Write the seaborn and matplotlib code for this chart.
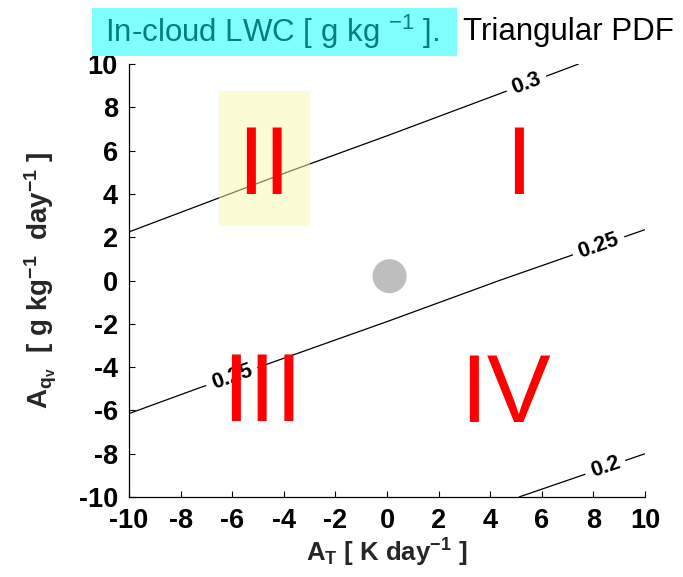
import numpy as np
import matplotlib
matplotlib.use("Agg")
import matplotlib.pyplot as plt
from matplotlib.patches import Rectangle
import seaborn as sns

# Forcing anomaly grid
a_t = [-10, -5, 0, 5, 10]      # A_T  [K day-1]
a_qv = [-10, -5, 0, 5, 10]     # A_qv [g kg-1 day-1]

# In-cloud liquid water content [g kg-1]; rows follow a_qv, columns follow a_t
lwc_rows = [
    [0.2295, 0.2192, 0.2095, 0.2002, 0.1912],
    [0.2561, 0.2445, 0.2335, 0.2231, 0.2132],
    [0.2855, 0.2724, 0.2601, 0.2485, 0.2375],
    [0.3178, 0.3031, 0.2893, 0.2763, 0.2641],
    [0.3529, 0.3365, 0.3211, 0.3066, 0.2930],
]
levels = [0.2, 0.25, 0.3]
label_points = [(5.4, 9.1), (8.2, 1.6), (-6.0, -4.5), (8.45, -8.6)]

# Quadrant labels
quadrants = ["I", "II", "III", "IV"]
quad_t = [5.1, -4.77, -4.83, 4.6]
quad_qv = [4.0, 4.0, -6.48, -6.54]

# Control point
control_t = [0.1]
control_qv = [0.2]

# Highlighted region
box_t = [-6.5, -3.0]
box_qv = [2.5, 8.75]

ticks = [-10, -8, -6, -4, -2, 0, 2, 4, 6, 8, 10]

sns.set_style("ticks", {"xtick.direction": "in", "ytick.direction": "in"})
plt.rcParams["font.family"] = ["Liberation Sans", "DejaVu Sans"]
plt.rcParams["font.weight"] = "bold"
plt.rcParams["mathtext.fontset"] = "custom"
plt.rcParams["mathtext.default"] = "regular"
plt.rcParams["axes.unicode_minus"] = False

W, H = 683, 577
fig = plt.figure(figsize=(W / 100, H / 100), dpi=100)
ax = fig.add_axes([0.1889, 0.1386, 0.7555, 0.7505])

cs = ax.contour(a_t, a_qv, np.array(lwc_rows), levels=levels,
                colors="black", linewidths=0.9, zorder=2)
ax.clabel(cs, fmt="%g", manual=label_points, inline=True,
          fontsize=15.5, inline_spacing=6)

sns.scatterplot(x=control_t, y=control_qv, s=600, color="#bebebe",
                edgecolor="none", ax=ax, legend=False, zorder=3)

ax.add_patch(Rectangle((box_t[0], box_qv[0]), box_t[1] - box_t[0],
                       box_qv[1] - box_qv[0], facecolor=(0.98, 0.98, 0.67),
                       alpha=0.5, edgecolor="none", zorder=4))

for lab, x, y in zip(quadrants, quad_t, quad_qv):
    ax.text(x, y, lab, color="red", fontsize=69, fontweight="normal",
            ha="center", va="baseline", zorder=5)

ax.set_xlim(-10, 10)
ax.set_ylim(-10, 10)
ax.set_xticks(ticks)
ax.set_yticks(ticks)
for s in ["top", "right"]:
    ax.spines[s].set_visible(False)
for s in ["left", "bottom"]:
    ax.spines[s].set_color("black")
    ax.spines[s].set_linewidth(0.9)
ax.tick_params(axis="both", direction="in", length=4, width=0.8,
               labelsize=19.5, colors="black")
ax.tick_params(axis="x", pad=8)
ax.tick_params(axis="y", pad=8)

ax.set_xlabel("$A_T$ [ K day$^{-1}$ ]", fontsize=18.5, fontweight="bold",
              labelpad=2)
ax.set_ylabel("$A_{q_v}$  [ g kg$^{-1}$  day$^{-1}$ ]", fontsize=20,
              fontweight="bold", labelpad=14)

# Title: highlighted quantity name followed by the PDF shape
fig.patches.append(Rectangle((92 / W, 1 - 56 / H), 365 / W, 48 / H,
                             transform=fig.transFigure, facecolor="#80ffff",
                             edgecolor="none", zorder=0))
fig.text(105 / W, 1 - 32 / H, "In-cloud LWC [ g kg $^{-1}$ ].",
         color="#008080", fontsize=22.5, fontweight="normal",
         ha="left", va="center", zorder=1)
fig.text(463 / W, 1 - 32 / H, "Triangular PDF", color="black",
         fontsize=22.5, fontweight="normal", ha="left", va="center")

fig.savefig("out.png", dpi=100)
